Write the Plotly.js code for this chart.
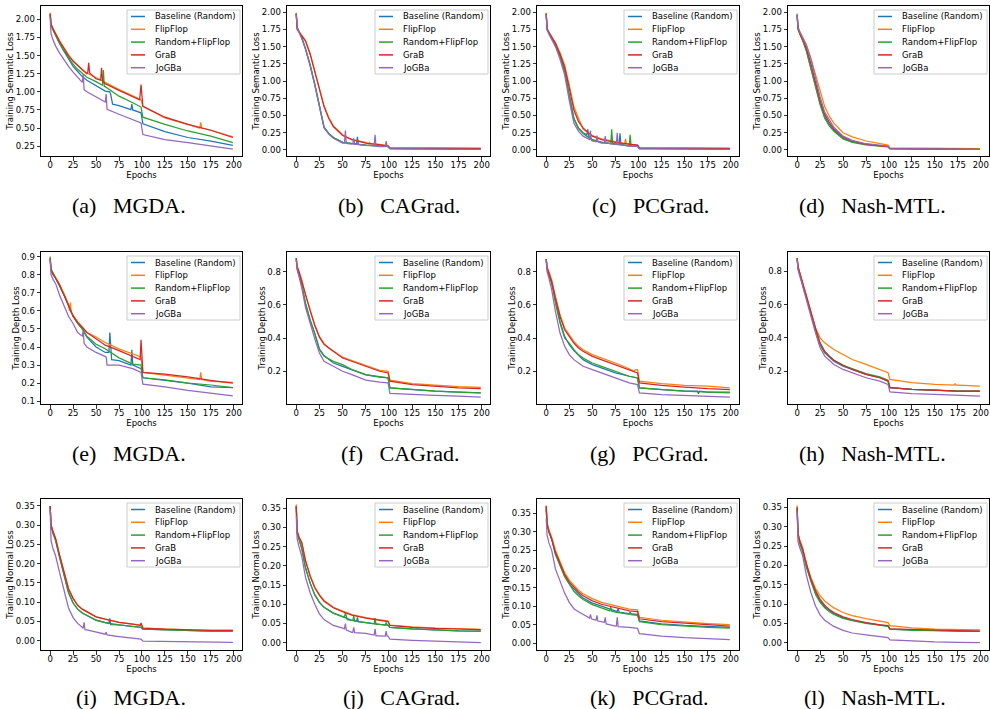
<!DOCTYPE html>
<html><head><meta charset="utf-8">
<script src="https://cdn.plot.ly/plotly-3.0.1.min.js"></script>
<style>html,body{margin:0;padding:0;background:#fff}#chart{width:990px;height:709px}</style>
</head><body><div id="chart"></div>
<script>
// ---------- shared ----------
const epochs = [0,1,3,6,10,15,20,25,30,35,40,50,60,75,90,99,101,125,150,175,199];
const seriesNames = ['Baseline (Random)','FlipFlop','Random+FlipFlop','GraB','JoGBa'];
const seriesColors = ['#1f77b4','#ff7f0e','#2ca02c','#d62728','#9467bd'];
const captionLabels = ['(a)','(b)','(c)','(d)','(e)','(f)','(g)','(h)','(i)','(j)','(k)','(l)'];
const captionNames = ['MGDA.','CAGrad.','PCGrad.','Nash-MTL.'];
const rowYTitles = ['Training Semantic Loss','Training Depth Loss','Training Normal Loss'];
const xTicks = [0,25,50,75,100,125,150,175,200];
const semTicks = [0,0.25,0.5,0.75,1.0,1.25,1.5,1.75,2.0];
const depthTicksE = [0.1,0.2,0.3,0.4,0.5,0.6,0.7,0.8,0.9];
const depthTicks = [0.2,0.4,0.6,0.8];
const normTicks = [0,0.05,0.1,0.15,0.2,0.25,0.3,0.35];

// ---------- (a) MGDA semantic ----------
const aBase = [2.07,1.93,1.86,1.77,1.67,1.56,1.46,1.35,1.28,1.21,1.16,1.09,1.01,0.81,0.75,0.71,0.56,0.45,0.37,0.32,0.26];
const aFlip = [2.09,1.94,1.88,1.80,1.71,1.61,1.51,1.43,1.36,1.30,1.26,1.19,1.13,1.03,0.94,0.89,0.80,0.64,0.55,0.47,0.38];
const aRff  = [2.06,1.92,1.86,1.78,1.68,1.57,1.47,1.38,1.31,1.25,1.20,1.14,1.07,0.94,0.85,0.79,0.65,0.55,0.46,0.39,0.30];
const aGrab = [2.08,1.93,1.87,1.79,1.70,1.60,1.50,1.42,1.36,1.30,1.25,1.18,1.11,1.02,0.93,1.10,0.80,0.65,0.55,0.47,0.37];
const aJog  = [2.02,1.80,1.72,1.63,1.54,1.44,1.35,1.27,1.20,1.13,1.00,0.93,0.86,0.69,0.61,0.57,0.41,0.34,0.30,0.25,0.21];
const aSpikes = [[0,65,1.00],[0,66,0.96],[0,68,0.83],[0,88,0.755],[0,89,0.83],
  [3,41,1.27],[3,42,1.40],[3,43,1.26],[3,55,1.16],[3,56,1.33],[3,57,1.15],[3,97.5,0.89],
  [1,163,0.50],[1,164,0.58],[1,165,0.50],
  [2,57,1.09],[2,58,1.30],[2,59,1.07],
  [4,36,1.24],[4,37,1.03],[4,61,0.97],[4,62,0.76]];

// ---------- (b) CAGrad semantic ----------
const bBase = [1.98,1.78,1.72,1.63,1.47,1.23,0.95,0.62,0.33,0.24,0.18,0.11,0.09,0.07,0.055,0.05,0.02,0.018,0.015,0.012,0.01];
const bFlip = [1.99,1.76,1.72,1.66,1.59,1.40,1.16,0.90,0.64,0.47,0.35,0.22,0.15,0.11,0.08,0.06,0.03,0.028,0.026,0.025,0.024];
const bRff  = [1.98,1.78,1.72,1.63,1.47,1.24,0.96,0.63,0.33,0.24,0.18,0.11,0.09,0.07,0.055,0.05,0.02,0.018,0.015,0.012,0.01];
const bGrab = [1.98,1.75,1.71,1.65,1.58,1.39,1.15,0.89,0.63,0.46,0.34,0.21,0.15,0.10,0.075,0.06,0.03,0.028,0.026,0.025,0.024];
const bJog  = [1.97,1.77,1.71,1.62,1.46,1.22,0.94,0.61,0.32,0.23,0.17,0.10,0.085,0.065,0.05,0.045,0.02,0.017,0.014,0.011,0.009];
const bSpikes = [[4,52,0.10],[4,53,0.28],[4,54,0.095],[4,61,0.09],[4,62,0.17],[4,63,0.085],
  [4,84,0.06],[4,85,0.22],[4,86,0.055],[4,96,0.05],[4,97,0.13],[4,98,0.05],
  [0,65,0.085],[0,66,0.19],[0,67,0.08],[1,78,0.09],[1,79,0.11],[1,80,0.09]];

// ---------- (c) PCGrad semantic ----------
const cBase = [1.98,1.76,1.70,1.63,1.53,1.36,1.15,0.80,0.46,0.32,0.25,0.15,0.11,0.09,0.06,0.055,0.02,0.018,0.016,0.014,0.012];
const cFlip = [1.99,1.76,1.71,1.65,1.56,1.41,1.23,0.94,0.63,0.46,0.30,0.21,0.16,0.12,0.08,0.07,0.03,0.027,0.025,0.024,0.023];
const cRff  = [1.97,1.75,1.70,1.63,1.53,1.36,1.14,0.79,0.45,0.31,0.24,0.14,0.11,0.085,0.06,0.055,0.02,0.018,0.016,0.014,0.012];
const cGrab = [1.98,1.76,1.70,1.64,1.55,1.39,1.20,0.90,0.58,0.41,0.32,0.20,0.15,0.11,0.08,0.07,0.03,0.027,0.025,0.023,0.022];
const cJog  = [1.96,1.74,1.68,1.61,1.50,1.32,1.09,0.72,0.39,0.27,0.20,0.13,0.10,0.08,0.055,0.05,0.018,0.015,0.013,0.011,0.01];
const cSpikes = [[0,44,0.22],[0,45,0.30],[0,46,0.20],[0,79,0.08],[0,80,0.24],[0,81,0.08],
  [4,47,0.15],[4,48,0.28],[4,49,0.14],[4,54,0.12],[4,55,0.21],[4,56,0.12],[4,63,0.10],[4,64,0.20],[4,65,0.10],
  [4,76,0.08],[4,77,0.25],[4,78,0.08],[2,70,0.09],[2,71,0.30],[2,72,0.09],[2,91,0.22],[2,92,0.06],
  [1,85,0.09],[1,86,0.16],[1,87,0.09]];

// ---------- (d) Nash-MTL semantic ----------
const dBase = [1.96,1.76,1.69,1.60,1.45,1.21,0.93,0.68,0.48,0.37,0.29,0.17,0.12,0.08,0.06,0.05,0.02,0.015,0.012,0.01,0.008];
const dFlip = [1.98,1.78,1.72,1.64,1.53,1.33,1.09,0.83,0.63,0.49,0.39,0.25,0.19,0.13,0.09,0.07,0.03,0.025,0.022,0.02,0.018];
const dRff  = [1.95,1.75,1.68,1.59,1.44,1.19,0.90,0.66,0.46,0.35,0.27,0.16,0.11,0.075,0.055,0.045,0.018,0.014,0.011,0.009,0.007];
const dGrab = [1.96,1.76,1.69,1.61,1.48,1.25,0.97,0.72,0.52,0.40,0.31,0.19,0.13,0.085,0.06,0.05,0.02,0.016,0.013,0.011,0.009];
const dJog  = [1.97,1.78,1.71,1.63,1.52,1.32,1.04,0.77,0.55,0.43,0.33,0.20,0.14,0.09,0.065,0.055,0.02,0.016,0.013,0.011,0.009];
const dSpikes = [];

// ---------- (e) MGDA depth ----------
const eBase = [0.89,0.83,0.81,0.78,0.745,0.69,0.63,0.57,0.53,0.50,0.455,0.40,0.37,0.325,0.30,0.28,0.23,0.215,0.20,0.18,0.175];
const eFlip = [0.89,0.83,0.81,0.785,0.75,0.695,0.635,0.575,0.54,0.51,0.48,0.455,0.425,0.39,0.36,0.345,0.26,0.245,0.23,0.21,0.205];
const eRff  = [0.90,0.83,0.81,0.78,0.745,0.69,0.63,0.57,0.53,0.50,0.46,0.415,0.39,0.34,0.305,0.30,0.23,0.218,0.20,0.19,0.175];
const eGrab = [0.89,0.82,0.80,0.78,0.745,0.69,0.63,0.57,0.535,0.51,0.48,0.445,0.41,0.38,0.345,0.44,0.26,0.25,0.235,0.215,0.20];
const eJog  = [0.88,0.80,0.775,0.75,0.69,0.63,0.57,0.53,0.48,0.46,0.40,0.37,0.345,0.30,0.28,0.26,0.195,0.18,0.16,0.145,0.13];
const eSpikes = [[3,98,0.33],[1,21,0.60],[1,22,0.645],[1,23,0.59],
  [0,64,0.37],[0,65,0.48],[0,67,0.33],[0,88,0.30],[0,89,0.385],
  [4,36,0.49],[4,37,0.42],[4,61,0.345],[4,62,0.30],[1,163,0.22],[1,164,0.26],[1,165,0.22]];

// ---------- (f) CAGrad depth ----------
const fBase = [0.88,0.82,0.78,0.72,0.61,0.51,0.43,0.335,0.295,0.27,0.25,0.23,0.21,0.178,0.165,0.16,0.10,0.088,0.08,0.075,0.07];
const fFlip = [0.88,0.83,0.80,0.75,0.66,0.57,0.48,0.41,0.365,0.34,0.32,0.285,0.265,0.235,0.205,0.20,0.147,0.125,0.115,0.107,0.103];
const fRff  = [0.88,0.82,0.78,0.72,0.605,0.505,0.425,0.33,0.29,0.275,0.26,0.24,0.21,0.18,0.167,0.16,0.10,0.09,0.08,0.075,0.07];
const fGrab = [0.88,0.83,0.80,0.74,0.655,0.565,0.475,0.405,0.363,0.34,0.32,0.28,0.26,0.23,0.20,0.19,0.14,0.12,0.11,0.10,0.095];
const fJog  = [0.87,0.81,0.77,0.70,0.585,0.485,0.395,0.31,0.26,0.245,0.23,0.20,0.18,0.147,0.135,0.13,0.067,0.06,0.055,0.05,0.045];
const fSpikes = [];

// ---------- (g) PCGrad depth ----------
const gBase = [0.875,0.82,0.78,0.73,0.64,0.50,0.41,0.36,0.325,0.30,0.27,0.24,0.22,0.19,0.17,0.16,0.10,0.09,0.08,0.075,0.075];
const gFlip = [0.875,0.83,0.80,0.75,0.65,0.54,0.46,0.42,0.38,0.35,0.33,0.30,0.28,0.25,0.215,0.21,0.14,0.125,0.115,0.11,0.10];
const gRff  = [0.875,0.82,0.78,0.73,0.61,0.49,0.40,0.37,0.33,0.30,0.28,0.25,0.23,0.20,0.17,0.16,0.10,0.09,0.08,0.075,0.07];
const gGrab = [0.875,0.82,0.79,0.74,0.64,0.53,0.45,0.41,0.37,0.34,0.32,0.29,0.27,0.24,0.21,0.19,0.13,0.115,0.105,0.095,0.09];
const gJog  = [0.87,0.80,0.76,0.69,0.56,0.43,0.35,0.30,0.27,0.25,0.23,0.21,0.19,0.16,0.13,0.12,0.07,0.06,0.055,0.05,0.045];
const gSpikes = [[1,95,0.20],[1,97,0.21],[0,164,0.08],[0,165,0.065],[0,166,0.08]];

// ---------- (h) Nash-MTL depth ----------
const hBase = [0.88,0.82,0.78,0.72,0.635,0.54,0.45,0.36,0.31,0.285,0.26,0.23,0.21,0.18,0.16,0.14,0.10,0.09,0.085,0.08,0.08];
const hFlip = [0.88,0.83,0.79,0.73,0.645,0.55,0.46,0.40,0.37,0.35,0.33,0.30,0.27,0.24,0.21,0.19,0.15,0.13,0.12,0.115,0.11];
const hRff  = [0.88,0.82,0.78,0.72,0.635,0.54,0.45,0.36,0.315,0.29,0.265,0.235,0.215,0.185,0.165,0.145,0.10,0.09,0.085,0.08,0.08];
const hGrab = [0.88,0.83,0.79,0.73,0.65,0.55,0.46,0.37,0.32,0.29,0.265,0.235,0.21,0.18,0.16,0.14,0.10,0.09,0.085,0.08,0.08];
const hJog  = [0.87,0.81,0.77,0.71,0.62,0.52,0.43,0.34,0.29,0.265,0.24,0.21,0.19,0.16,0.14,0.12,0.075,0.065,0.06,0.055,0.05];
const hSpikes = [[1,171,0.115],[1,172,0.125],[1,173,0.115]];

// ---------- (i) MGDA normal ----------
const iBase = [0.35,0.30,0.28,0.26,0.22,0.17,0.125,0.098,0.082,0.072,0.066,0.053,0.047,0.041,0.037,0.035,0.030,0.028,0.026,0.025,0.025];
const iFlip = [0.35,0.30,0.285,0.265,0.225,0.18,0.135,0.11,0.092,0.082,0.075,0.062,0.056,0.048,0.043,0.040,0.033,0.030,0.028,0.027,0.027];
const iRff  = [0.35,0.30,0.28,0.26,0.22,0.17,0.125,0.098,0.082,0.072,0.066,0.054,0.047,0.041,0.037,0.035,0.030,0.028,0.026,0.025,0.025];
const iGrab = [0.35,0.30,0.285,0.265,0.225,0.18,0.135,0.11,0.092,0.082,0.075,0.062,0.056,0.048,0.043,0.046,0.033,0.030,0.028,0.027,0.027];
const iJog  = [0.34,0.26,0.24,0.22,0.18,0.13,0.085,0.06,0.045,0.035,0.028,0.022,0.017,0.011,0.007,0.004,-0.001,-0.002,-0.003,-0.0035,-0.004];
const iSpikes = [[4,36,0.032],[4,37,0.048],[4,38,0.028],[4,61,0.022],[4,62,0.015],
  [0,64,0.045],[0,65,0.058],[0,66,0.042],[3,98,0.040]];

// ---------- (j) CAGrad normal ----------
const jBase = [0.355,0.285,0.27,0.245,0.195,0.155,0.125,0.105,0.092,0.084,0.077,0.068,0.058,0.052,0.048,0.046,0.04,0.036,0.033,0.031,0.030];
const jFlip = [0.36,0.29,0.275,0.26,0.215,0.175,0.145,0.125,0.11,0.10,0.092,0.082,0.073,0.065,0.059,0.056,0.046,0.041,0.038,0.036,0.035];
const jRff  = [0.355,0.285,0.27,0.245,0.195,0.155,0.125,0.105,0.092,0.084,0.077,0.068,0.058,0.052,0.048,0.046,0.04,0.036,0.033,0.031,0.030];
const jGrab = [0.355,0.29,0.275,0.26,0.213,0.173,0.143,0.123,0.108,0.099,0.091,0.081,0.072,0.064,0.058,0.055,0.045,0.040,0.037,0.035,0.034];
const jJog  = [0.33,0.27,0.25,0.225,0.17,0.13,0.10,0.075,0.06,0.052,0.045,0.038,0.027,0.024,0.018,0.017,0.009,0.006,0.004,0.002,0.0];
const jSpikes = [[4,52,0.036],[4,53,0.05],[4,54,0.033],[4,61,0.027],[4,62,0.04],[4,63,0.026],
  [4,84,0.02],[4,85,0.036],[4,86,0.018],[4,96,0.017],[4,97,0.03],[4,98,0.017],
  [2,52,0.066],[2,53,0.078],[2,55,0.06],[2,61,0.058],[2,62,0.07],[2,63,0.056],
  [2,84,0.049],[2,85,0.064],[2,86,0.048],[2,96,0.046],[2,97,0.053],[2,98,0.046],
  [0,65,0.056],[0,66,0.066],[0,67,0.055]];

// ---------- (k) PCGrad normal ----------
const kBase = [0.36,0.32,0.30,0.28,0.24,0.21,0.18,0.16,0.145,0.133,0.122,0.108,0.10,0.088,0.08,0.078,0.06,0.052,0.048,0.045,0.043];
const kFlip = [0.37,0.325,0.305,0.285,0.25,0.22,0.19,0.17,0.155,0.143,0.133,0.12,0.11,0.10,0.092,0.09,0.07,0.062,0.057,0.053,0.05];
const kRff  = [0.365,0.32,0.30,0.28,0.24,0.21,0.18,0.16,0.14,0.128,0.118,0.104,0.095,0.084,0.078,0.075,0.058,0.05,0.046,0.043,0.041];
const kGrab = [0.37,0.32,0.30,0.28,0.245,0.215,0.185,0.165,0.15,0.138,0.128,0.114,0.105,0.095,0.087,0.085,0.066,0.058,0.053,0.05,0.046];
const kJog  = [0.335,0.29,0.27,0.25,0.20,0.165,0.135,0.11,0.093,0.085,0.078,0.065,0.058,0.046,0.043,0.04,0.026,0.019,0.015,0.012,0.01];
const kSpikes = [[4,47,0.068],[4,48,0.078],[4,49,0.066],[4,54,0.062],[4,55,0.075],[4,56,0.06],
  [4,63,0.056],[4,64,0.07],[4,65,0.052],[4,76,0.046],[4,77,0.07],[4,78,0.045],
  [2,69,0.087],[2,70,0.097],[2,71,0.086],[2,91,0.085],[2,92,0.077],
  [0,77,0.085],[0,78,0.094],[0,79,0.084]];

// ---------- (l) Nash-MTL normal ----------
const lBase = [0.35,0.28,0.26,0.24,0.20,0.16,0.13,0.108,0.093,0.083,0.075,0.065,0.058,0.051,0.045,0.043,0.035,0.033,0.031,0.030,0.029];
const lFlip = [0.355,0.285,0.265,0.245,0.205,0.168,0.14,0.122,0.108,0.098,0.09,0.078,0.07,0.062,0.055,0.052,0.044,0.038,0.035,0.034,0.033];
const lRff  = [0.35,0.275,0.255,0.235,0.195,0.157,0.125,0.104,0.09,0.08,0.073,0.063,0.057,0.05,0.044,0.042,0.035,0.032,0.031,0.030,0.029];
const lGrab = [0.35,0.28,0.262,0.243,0.205,0.165,0.135,0.112,0.097,0.086,0.078,0.067,0.06,0.052,0.046,0.044,0.036,0.034,0.032,0.031,0.030];
const lJog  = [0.34,0.26,0.245,0.225,0.175,0.13,0.095,0.072,0.058,0.049,0.042,0.032,0.025,0.02,0.016,0.013,0.007,0.004,0.002,0.001,0.0];
const lSpikes = [];

// ---------- assemble ----------
const panelSeries = [
  [aBase,aFlip,aRff,aGrab,aJog],[bBase,bFlip,bRff,bGrab,bJog],[cBase,cFlip,cRff,cGrab,cJog],[dBase,dFlip,dRff,dGrab,dJog],
  [eBase,eFlip,eRff,eGrab,eJog],[fBase,fFlip,fRff,fGrab,fJog],[gBase,gFlip,gRff,gGrab,gJog],[hBase,hFlip,hRff,hGrab,hJog],
  [iBase,iFlip,iRff,iGrab,iJog],[jBase,jFlip,jRff,jGrab,jJog],[kBase,kFlip,kRff,kGrab,kJog],[lBase,lFlip,lRff,lGrab,lJog]];
const panelSpikes = [aSpikes,bSpikes,cSpikes,dSpikes,eSpikes,fSpikes,gSpikes,hSpikes,iSpikes,jSpikes,kSpikes,lSpikes];
const yRanges = [[0.115,2.183],[-0.088,2.09],[-0.088,2.09],[-0.088,2.09],
                 [0.085,0.925],[0.003,0.918],[0.003,0.918],[0.002,0.917],
                 [-0.024,0.368],[-0.019,0.374],[-0.018,0.388],[-0.019,0.372]];
const yTickSets = [semTicks,semTicks,semTicks,semTicks,depthTicksE,depthTicks,depthTicks,depthTicks,normTicks,normTicks,normTicks,normTicks];
const yFormats = ['.2f','.2f','.2f','.2f','.1f','.1f','.1f','.1f','.2f','.2f','.2f','.2f'];

const W = 990, H = 709;
const colPx = [[41,242],[287,490],[537,739],[788,989]];
const rowPx = [[6,156],[252,404],[499,650]];
const captionY = [205,453,697];
const captionRight = [188,462,711,948];
const px = v => v / W, py = v => 1 - v / H;
const FONT = 'DejaVu Sans';
const NB = '\u00a0';

const traces = [], shapes = [], annotations = [];
const layout = {width:W, height:H, margin:{l:0,r:0,t:0,b:0}, showlegend:false,
  paper_bgcolor:'#fff', plot_bgcolor:'#fff', font:{family:FONT, size:8.5, color:'#000'}};

for (let p = 0; p < 12; p++) {
  const r = Math.floor(p / 4), c = p % 4;
  const xa = 'x' + (p + 1), ya = 'y' + (p + 1);
  const xKey = 'xaxis' + (p + 1), yKey = 'yaxis' + (p + 1);
  panelSeries[p].forEach((vals, s) => {
    const pts = epochs.map((e, i) => [e, vals[i]]);
    panelSpikes[p].filter(t => t[0] === s).forEach(t => pts.push([t[1], t[2]]));
    pts.sort((u, v) => u[0] - v[0]);
    traces.push({type:'scatter', mode:'lines', x:pts.map(q => q[0]), y:pts.map(q => q[1]),
      name:seriesNames[s], xaxis:xa, yaxis:ya, line:{color:seriesColors[s], width:1.25}, hoverinfo:'skip'});
  });
  const common = {showline:true, mirror:true, linecolor:'#000', linewidth:1, showgrid:false, zeroline:false,
    ticks:'outside', ticklen:3.5, tickwidth:0.8, tickcolor:'#000', tickfont:{family:FONT, size:8.5, color:'#000'}, automargin:false};
  layout[xKey] = Object.assign({}, common, {domain:[px(colPx[c][0]), px(colPx[c][1])], anchor:ya,
    range:[-9.95,208.95], tickmode:'array', tickvals:xTicks, ticktext:xTicks.map(String), ticklabelstandoff:-3,
    title:{text:'Epochs', font:{family:FONT, size:8.5, color:'#000'}, standoff:0}});
  layout[yKey] = Object.assign({}, common, {domain:[py(rowPx[r][1]), py(rowPx[r][0])], anchor:xa,
    range:yRanges[p], tickmode:'array', tickvals:yTickSets[p], tickformat:yFormats[p],
    title:{text:rowYTitles[r], font:{family:FONT, size:8.5, color:'#000'}, standoff:0}});
  // caption
  annotations.push({text:captionLabels[p] + NB + NB + NB + captionNames[c], xref:'paper', yref:'paper',
    x:px(captionRight[c]), y:py(captionY[r]), xanchor:'right', yanchor:'middle', showarrow:false,
    font:{family:'Liberation Serif', size:22, color:'#000'}});
  // legend box
  const right = colPx[c][1] - 2, left = right - 113, top = rowPx[r][0] + 4, bottom = top + 64;
  shapes.push({type:'rect', xref:'paper', yref:'paper', x0:px(left), x1:px(right), y0:py(bottom), y1:py(top),
    line:{color:'#cccccc', width:1}, fillcolor:'rgba(255,255,255,0.85)', layer:'above'});
  seriesNames.forEach((nm, s) => {
    const yc = top + 6.5 + s * 12.8;
    shapes.push({type:'line', xref:'paper', yref:'paper', x0:px(left + 4), x1:px(left + 18), y0:py(yc), y1:py(yc),
      line:{color:seriesColors[s], width:1.5}, layer:'above'});
    annotations.push({text:nm, xref:'paper', yref:'paper', x:px(left + 26), y:py(yc), xanchor:'left', yanchor:'middle',
      showarrow:false, font:{family:FONT, size:8.5, color:'#000'}});
  });
}
layout.shapes = shapes;
layout.annotations = annotations;
Plotly.newPlot('chart', traces, layout, {displayModeBar:false, staticPlot:true});
</script>
</body></html>
